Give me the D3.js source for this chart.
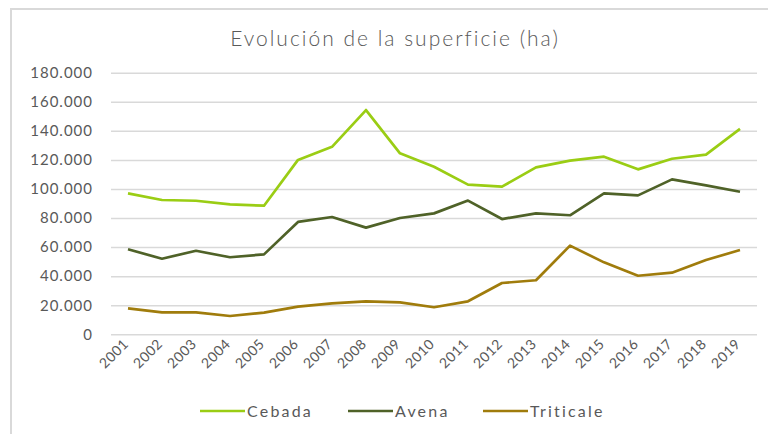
<!DOCTYPE html>
<html>
<head>
<meta charset="utf-8">
<script src="https://cdn.jsdelivr.net/npm/d3@7"></script>
<style>
  body { margin: 0; background: #fff; }
  svg { display: block; font-family: "Lato", "Open Sans", sans-serif; }
</style>
</head>
<body>
<div id="chart"></div>
<script>
var years = ["2001", "2002", "2003", "2004", "2005", "2006", "2007", "2008", "2009", "2010",
  "2011", "2012", "2013", "2014", "2015", "2016", "2017", "2018", "2019"];
var cebada = [97000, 92400, 91900, 89400, 88500, 120000, 129000, 154300, 124500, 115300,
  103000, 101600, 114900, 119500, 122200, 113500, 120800, 123600, 141300];
var avena = [58500, 52000, 57500, 53000, 55000, 77300, 80700, 73400, 80000, 83200,
  92000, 79300, 83200, 81900, 97000, 95600, 106600, 102500, 98100];
var triticale = [17900, 15100, 15100, 12600, 14900, 19000, 21300, 22700, 22000, 18600,
  22700, 35300, 37200, 61000, 49500, 40300, 42400, 51100, 58000];
var yTicks = [0, 20000, 40000, 60000, 80000, 100000, 120000, 140000, 160000, 180000];

var series = [
  { name: "Cebada", values: cebada, color: "#9acd14" },
  { name: "Avena", values: avena, color: "#4f6228" },
  { name: "Triticale", values: triticale, color: "#a07c0c" }
];

var width = 768, height = 434;
var svg = d3.select("#chart").append("svg")
  .attr("width", width)
  .attr("height", height);

// frame (only left and top edges are visible in the picture)
svg.append("rect")
  .attr("x", 11)
  .attr("y", 9)
  .attr("width", 800)
  .attr("height", 500)
  .style("fill", "none")
  .style("stroke", "#d9d9d9")
  .style("stroke-width", 2);

svg.append("text")
  .text("Evolución de la superficie (ha)")
  .attr("x", 395)
  .attr("y", 46)
  .attr("text-anchor", "middle")
  .style("font-size", "21px")
  .style("font-weight", 300)
  .style("letter-spacing", "2px")
  .style("fill", "#595959");

var x = d3.scaleBand().domain(years).range([111, 757]);
var y = d3.scaleLinear().domain([0, 180000]).range([334.3, 72.7]);

var fmt = function(d) {
  return d3.format(",")(d).replace(/,/g, ".");
};

// gridlines + y labels
var yAxis = svg.append("g")
  .attr("transform", "translate(111,0)")
  .call(d3.axisLeft(y).tickValues(yTicks).tickSize(-(757 - 111)).tickPadding(18).tickFormat(fmt));
yAxis.select(".domain").remove();
yAxis.selectAll(".tick line")
  .style("stroke", "#d9d9d9")
  .style("stroke-width", 1.5);
yAxis.selectAll(".tick text")
  .style("font-size", "15px")
  .style("letter-spacing", "1px")
  .style("font-family", "Lato, sans-serif")
  .style("fill", "#595959");

// x labels
var xAxis = svg.append("g")
  .attr("transform", "translate(0,334.3)")
  .call(d3.axisBottom(x).tickSize(0).tickPadding(0));
xAxis.select(".domain").remove();
xAxis.selectAll(".tick text")
  .attr("text-anchor", "end")
  .attr("dx", "2px")
  .attr("dy", "0")
  .attr("transform", "translate(0,12) rotate(-45)")
  .style("font-size", "14px")
  .style("letter-spacing", "0.5px")
  .style("font-family", "Lato, sans-serif")
  .style("fill", "#595959");

var line = d3.line()
  .x(function(d, i) { return x(years[i]) + x.bandwidth() / 2; })
  .y(function(d) { return y(d); });

series.forEach(function(s) {
  svg.append("path")
    .datum(s.values)
    .attr("d", line)
    .style("fill", "none")
    .style("stroke", s.color)
    .style("stroke-width", 2.7)
    .style("stroke-linejoin", "round");
});

// legend
var legendX = [200, 348, 483];
series.forEach(function(s, i) {
  var g = svg.append("g").attr("transform", "translate(" + legendX[i] + ",411)");
  g.append("line")
    .attr("x1", 0).attr("x2", 45)
    .attr("y1", 0).attr("y2", 0)
    .style("stroke", s.color)
    .style("stroke-width", 2.7);
  g.append("text")
    .text(s.name)
    .attr("x", 47)
    .attr("y", 6)
    .style("font-size", "16px")
    .style("letter-spacing", "2.2px")
    .style("fill", "#595959");
});
</script>
</body>
</html>
